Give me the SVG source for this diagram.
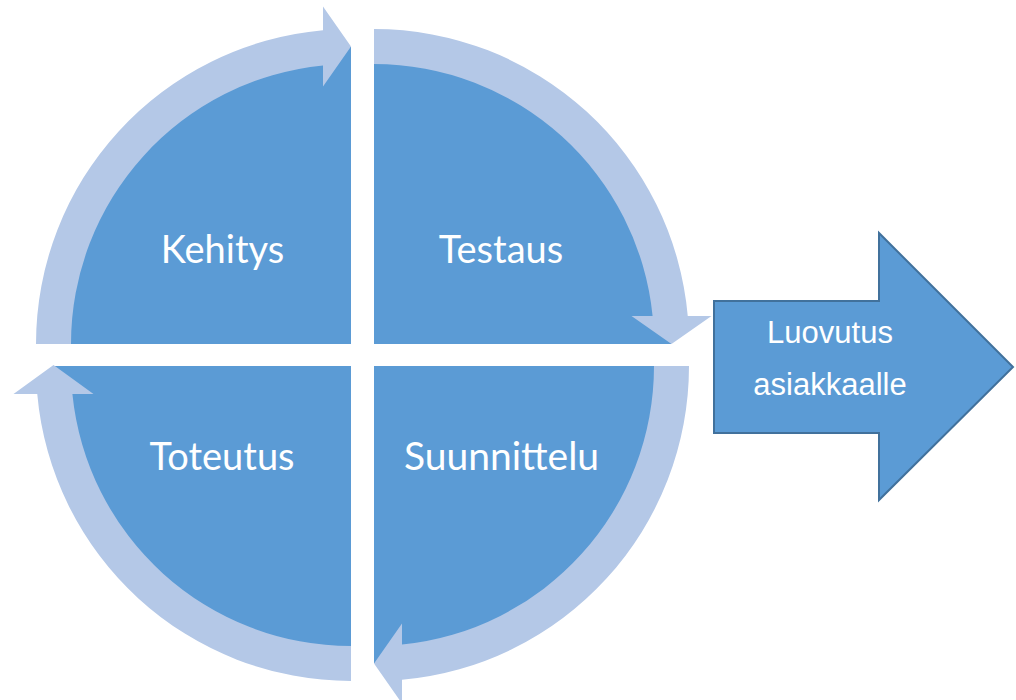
<svg xmlns="http://www.w3.org/2000/svg" width="1016" height="700" viewBox="0 0 1016 700">
<style>
.pie{fill:#5B9BD5;}
.arc{fill:#B4C8E7;}
.lbl{font-family:Lato,"Open Sans","Liberation Sans",sans-serif;font-size:38px;fill:#FFFFFF;text-anchor:middle;}
.big{fill:#5B9BD5;stroke:#41719C;stroke-width:2;stroke-linejoin:miter;}
.btx{font-family:"Liberation Sans",Arial,sans-serif;font-size:31px;fill:#FFFFFF;text-anchor:middle;}
</style>
<rect width="1016" height="700" fill="#FFFFFF"/>
<g id="kehitys">
<path class="pie" d="M351 344 L54 344 A297 297 0 0 1 351 47 Z"/>
</g>
<g id="testaus">
<path class="pie" d="M374 344 L374 47 A297 297 0 0 1 671 344 Z"/>
</g>
<g id="suunnittelu">
<path class="pie" d="M374 366 L671 366 A297 297 0 0 1 374 663 Z"/>
</g>
<g id="toteutus">
<path class="pie" d="M351 366 L351 663 A297 297 0 0 1 54 366 Z"/>
</g>
<g id="connectors">
<path class="arc" d="M36 344 A315 315 0 0 1 323 30.25 L323 6.5 L351 46.5 L323 86.5 L323 65.4 A280 280 0 0 0 71 344 Z"/>
<path class="arc" d="M374 29 A315 315 0 0 1 687.75 316 L711.5 316 L671.5 344 L631.5 316 L652.6 316 A280 280 0 0 0 374 64 Z"/>
<path class="arc" d="M689 366 A315 315 0 0 1 402 679.75 L402 703.5 L374 663.5 L402 623.5 L402 644.6 A280 280 0 0 0 654 366 Z"/>
<path class="arc" d="M351 681 A315 315 0 0 1 37.25 394 L13.5 394 L53.5 365 L93.5 394 L72.4 394 A280 280 0 0 0 351 646 Z"/>
</g>
<g id="labels">
<text class="lbl" x="222.5" y="263">Kehitys</text>
<text class="lbl" x="501" y="263">Testaus</text>
<text class="lbl" x="222" y="470">Toteutus</text>
<text class="lbl" x="501.5" y="470" style="font-size:39px">Suunnittelu</text>
</g>
<g id="luovutus">
<polygon class="big" points="714,301 879,301 879,233 1013,367 879,500 879,433 714,433"/>
<text class="btx" x="830" y="343">Luovutus</text>
<text class="btx" x="830" y="395">asiakkaalle</text>
</g>
</svg>
